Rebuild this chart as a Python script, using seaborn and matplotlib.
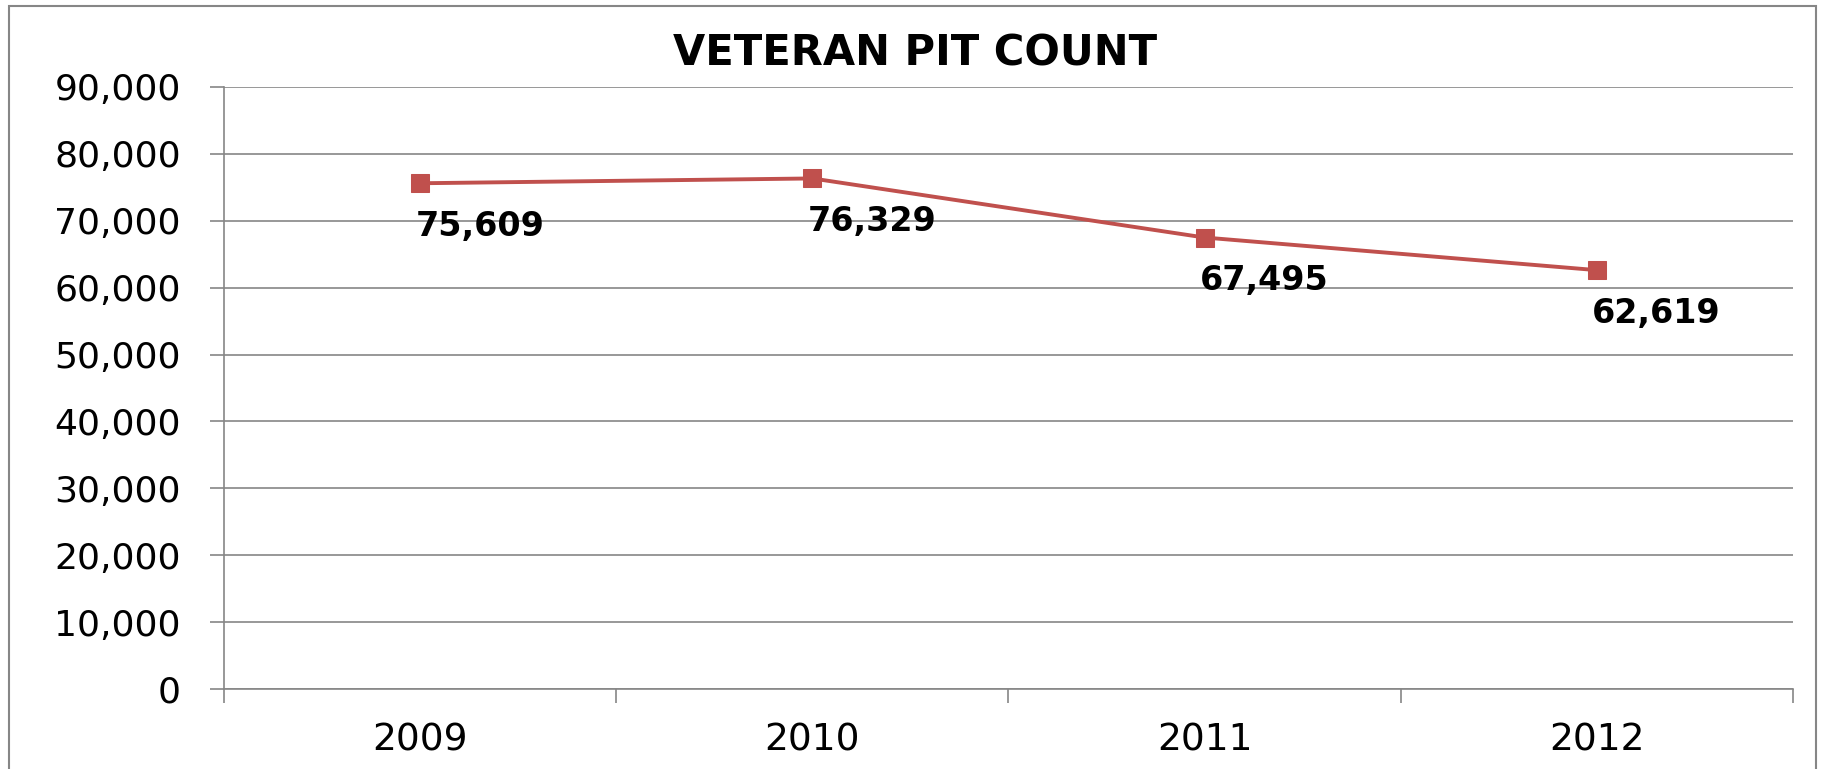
import numpy as np
import pandas as pd
import seaborn as sns
import matplotlib.pyplot as plt
from matplotlib.ticker import FuncFormatter, FixedLocator
from matplotlib.patches import Rectangle

years = ['2009', '2010', '2011', '2012']
counts = [75609, 76329, 67495, 62619]
labels = ['75,609', '76,329', '67,495', '62,619']

df = pd.DataFrame({'year': years, 'count': counts})

sns.set_theme(style='white')
plt.rcParams['font.family'] = ['DejaVu Sans']

red = '#C0504D'
grey = '#868686'

fig = plt.figure(figsize=(18.22, 7.69), dpi=100)
ax = fig.add_axes([224 / 1822, 1 - 689 / 769, (1793 - 224) / 1822, (689 - 87) / 769])

sns.lineplot(data=df, x='year', y='count', ax=ax, color=red, linewidth=2.8,
             marker='s', markersize=13, markeredgecolor=red, sort=False)

# value labels sit below and to the right of each point
for i, (v, t) in enumerate(zip(counts, labels)):
    ax.annotate(t, (i, v), xytext=(43, -31), textcoords='offset points',
                ha='center', va='center', fontsize=24, fontweight='bold', color='black')

ax.set_ylim(0, 90000)
ax.set_xlim(-0.5, 3.5)
ax.set_yticks(np.arange(0, 90001, 10000))
ax.yaxis.set_major_formatter(FuncFormatter(lambda v, p: f'{int(v):,}'))
ax.yaxis.grid(True, color=grey, linewidth=1.2)
ax.set_axisbelow(True)
ax.set_xlabel('')
ax.set_ylabel('')

ax.xaxis.set_minor_locator(FixedLocator([-0.5, 0.5, 1.5, 2.5, 3.5]))
ax.tick_params(axis='x', which='major', length=0, pad=24, labelsize=27, colors='black')
ax.tick_params(axis='x', which='minor', length=10, width=1.2, color=grey, bottom=True)
ax.tick_params(axis='y', which='major', length=10, width=1.2, color=grey, left=True,
               labelsize=26, labelcolor='black', pad=21)

for s in ['top', 'right']:
    ax.spines[s].set_visible(False)
for s in ['left', 'bottom']:
    ax.spines[s].set_color(grey)
    ax.spines[s].set_linewidth(1.2)

fig.text(915 / 1822, 1 - 54 / 769, 'VETERAN PIT COUNT', ha='center', va='center',
         fontsize=30, fontweight='bold', color='black')

fig.patches.append(Rectangle((9 / 1822, -0.05), (1816 - 9) / 1822, 1.05 - 6 / 769,
                             transform=fig.transFigure, fill=False,
                             edgecolor=grey, linewidth=1.5))

fig.savefig('out.png', dpi=100)
